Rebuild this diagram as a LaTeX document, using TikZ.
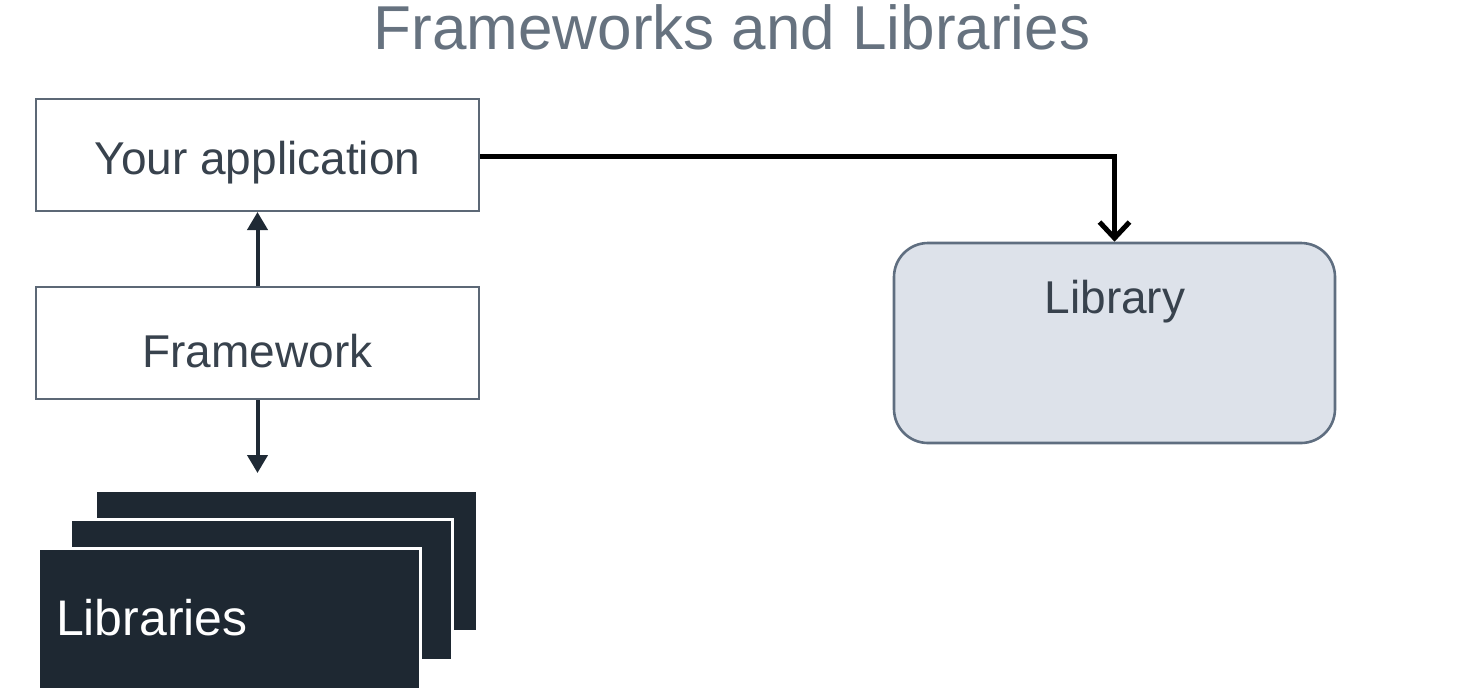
\documentclass[tikz,border=0pt]{standalone}
\usepackage{fontspec}
\setmainfont{Liberation Sans}
\usetikzlibrary{arrows.meta}
\definecolor{titlegray}{HTML}{66727F}
\definecolor{boxtext}{HTML}{38424D}
\definecolor{boxline}{HTML}{5C6876}
\definecolor{darkfill}{HTML}{1E2832}
\definecolor{libfill}{HTML}{DDE2EA}
\definecolor{libline}{HTML}{5F6E80}
\definecolor{arrowdark}{HTML}{1F2A35}
\tikzset{
  plainbox/.style={draw=boxline, line width=1pt, fill=white, minimum width=221.5pt, minimum height=56pt, inner sep=0pt},
  boxlabel/.style={text=boxtext, font=\fontsize{23}{28}\selectfont},
  stackbox/.style={draw=white, line width=1.5pt, fill=darkfill, minimum width=191pt, minimum height=70.5pt, inner sep=0pt},
  libbox/.style={draw=libline, line width=1.3pt, fill=libfill, rounded corners=17pt, minimum width=220.5pt, minimum height=100pt, inner sep=0pt},
  uparrow/.style={draw=arrowdark, line width=2pt, -{Triangle[length=9pt,width=10pt]}},
  callarrow/.style={draw=black, line width=2.5pt, -{Straight Barb[length=8pt,width=15pt]}}
}
\begin{document}
\begin{tikzpicture}[x=0.5pt,y=-0.5pt]
\useasboundingbox (0,0) rectangle (1457,698);
\node[anchor=base, text=titlegray, font=\fontsize{31}{36}\selectfont] (title) at (732,49) {Frameworks and Libraries};
\node[plainbox] (app) at (257.5,155) {};
\node[boxlabel] (apptext) at (257.5,163) {Your application};
\node[plainbox] (fw) at (257.5,343) {};
\node[boxlabel] (fwtext) at (257.5,351) {Framework};
\node[stackbox] (s3) at (286.5,561) {};
\node[stackbox] (s2) at (261,589.5) {};
\node[stackbox] (s1) at (229,618.5) {};
\node[anchor=west, text=white, font=\fontsize{25}{30}\selectfont] (libs) at (49,618) {Libraries};
\node[libbox] (lib) at (1114.5,343) {};
\node[boxlabel] (libtext) at (1115,302) {Library};
\coordinate (fwout) at (257.5,473);
\draw[uparrow] (fw.north) -- (app.south);
\draw[uparrow] (fw.south) -- (fwout);
\draw[callarrow] (app.east |- 0,156) -| (lib.north);
\end{tikzpicture}
\end{document}
